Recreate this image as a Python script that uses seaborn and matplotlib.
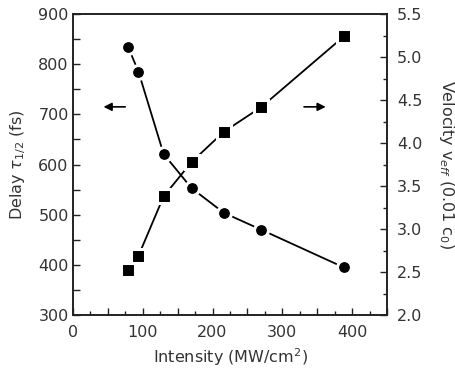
import matplotlib
matplotlib.use("Agg")
import matplotlib.pyplot as plt
import seaborn as sns
import pandas as pd
from matplotlib.ticker import MultipleLocator, FuncFormatter

intensity = [79, 94, 130, 170, 216, 270, 388]
delay = [835, 785, 621, 553, 504, 470, 395]
velocity = [2.52, 2.69, 3.38, 3.78, 4.13, 4.42, 5.24]

sns.set_style("ticks")
plt.rcParams['font.family'] = ['DejaVu Sans']
plt.rcParams['mathtext.fontset'] = 'dejavusans'

df = pd.DataFrame({"intensity": intensity, "delay": delay, "velocity": velocity})

fig = plt.figure(figsize=(4.55, 3.69), dpi=100)
ax = fig.add_axes([0.160, 0.146, 0.691, 0.816])
ax2 = ax.twinx()

tc = "#333333"
fs = 11.5
sns.lineplot(data=df, x="intensity", y="delay", ax=ax, color="black", lw=1.3,
             marker="o", markersize=10, markeredgecolor="white", markeredgewidth=2.2,
             markerfacecolor="black", zorder=3)
sns.lineplot(data=df, x="intensity", y="velocity", ax=ax2, color="black", lw=1.3,
             marker="s", markersize=9.5, markeredgecolor="white", markeredgewidth=2.2,
             markerfacecolor="black", zorder=3)

ax.set_xlim(0, 450)
ax.set_ylim(300, 900)
ax2.set_ylim(2.0, 5.5)

ax.xaxis.set_major_locator(MultipleLocator(50))
ax.xaxis.set_minor_locator(MultipleLocator(25))
ax.xaxis.set_major_formatter(FuncFormatter(lambda v, p: f"{int(v)}" if v % 100 == 0 else ""))
ax.yaxis.set_major_locator(MultipleLocator(100))
ax.yaxis.set_minor_locator(MultipleLocator(50))
ax2.yaxis.set_major_locator(MultipleLocator(0.5))
ax2.yaxis.set_minor_locator(MultipleLocator(0.25))

for a in (ax, ax2):
    a.tick_params(which="major", direction="in", length=5, width=1.0, labelsize=fs,
                  colors="#222222", labelcolor=tc, pad=3)
    a.tick_params(which="minor", direction="in", length=3, width=1.0, colors="#222222")
    for s in a.spines.values():
        s.set_linewidth(1.2)
        s.set_color("#222222")
ax.tick_params(which="minor", axis="y", length=5)
ax.tick_params(axis="x", which="major", pad=7)
ax.tick_params(top=False, which="both")
ax2.tick_params(axis="y", which="both", right=True, left=False)
ax2.tick_params(axis="y", which="major", pad=7)

ax.set_xlabel("Intensity (MW/cm$^2$)", fontsize=fs, color=tc, labelpad=5)
ax.set_ylabel(r"Delay $\tau_{1/2}$ (fs)", fontsize=fs, color=tc, labelpad=7)
ax2.set_ylabel(r"Velocity v$_{eff}$ (0.01 c$_0$)", fontsize=fs, color=tc,
               rotation=270, labelpad=24)

ax.annotate("", xy=(40, 715), xytext=(79, 715),
            arrowprops=dict(arrowstyle="-|>", color="black", lw=1.2, mutation_scale=12))
ax.annotate("", xy=(366, 715), xytext=(327, 715),
            arrowprops=dict(arrowstyle="-|>", color="black", lw=1.2, mutation_scale=12))

fig.savefig("out.png", dpi=100)
